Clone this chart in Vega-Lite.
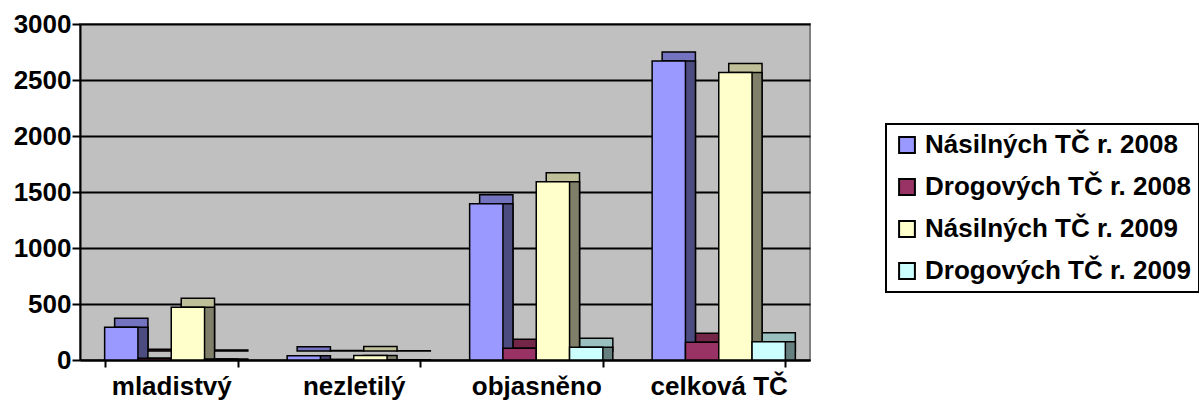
{
  "$schema": "https://vega.github.io/schema/vega-lite/v6.json",
  "autosize": {"type": "none"},
  "padding": {"left": 80, "top": 24, "right": 389, "bottom": 43},
  "width": 730,
  "height": 336,
  "background": "white",
  "config": {
    "font": "Liberation Sans",
    "view": {"fill": "#C0C0C0", "stroke": "#808080", "strokeWidth": 2},
    "axis": {"labelFont": "Liberation Sans", "labelFontWeight": "bold", "labelColor": "black", "domainColor": "black", "domainWidth": 2, "tickColor": "black", "tickWidth": 2, "title": null},
    "legend": {"strokeWidth": 2}
  },
  "data": {
    "values": [
      {"kat": "mladistvý", "serie": "A", "v": 293},
      {"kat": "mladistvý", "serie": "B", "v": 15},
      {"kat": "mladistvý", "serie": "C", "v": 470},
      {"kat": "mladistvý", "serie": "D", "v": 10},
      {"kat": "nezletilý", "serie": "A", "v": 38},
      {"kat": "nezletilý", "serie": "B", "v": 4},
      {"kat": "nezletilý", "serie": "C", "v": 40},
      {"kat": "nezletilý", "serie": "D", "v": 3},
      {"kat": "objasněno", "serie": "A", "v": 1395},
      {"kat": "objasněno", "serie": "B", "v": 104},
      {"kat": "objasněno", "serie": "C", "v": 1592},
      {"kat": "objasněno", "serie": "D", "v": 113},
      {"kat": "celková TČ", "serie": "A", "v": 2670},
      {"kat": "celková TČ", "serie": "B", "v": 158},
      {"kat": "celková TČ", "serie": "C", "v": 2568},
      {"kat": "celková TČ", "serie": "D", "v": 163}
    ]
  },
  "encoding": {
    "x": {
      "field": "kat", "type": "nominal", "sort": ["mladistvý", "nezletilý", "objasněno", "celková TČ"],
      "scale": {"paddingInner": 0.27, "paddingOuter": 0.135},
      "axis": {"labelAngle": 0, "tickBand": "extent", "tickSize": 7, "labelPadding": 6, "labelFontSize": 26, "grid": false}
    },
    "y": {
      "field": "v", "type": "quantitative",
      "scale": {"domain": [0, 3000], "nice": false},
      "axis": {"values": [0, 500, 1000, 1500, 2000, 2500, 3000], "format": "d", "labelFontSize": 26, "tickSize": 8, "labelPadding": 1, "grid": true, "gridColor": "black", "gridWidth": 2, "gridOpacity": 1}
    }
  },
  "layer": [
    {
      "mark": {"type": "bar", "yOffset": -9, "stroke": "black", "strokeWidth": 1.5},
      "encoding": {
        "xOffset": {"field": "serie", "type": "nominal", "sort": ["A", "B", "C", "D"], "scale": {"paddingInner": 0, "paddingOuter": 0, "range": [10, 143.2]}},
        "fill": {"field": "serie", "type": "nominal", "legend": null,
          "scale": {"domain": ["A", "B", "C", "D"], "range": ["#7373BF", "#732648", "#BFBF99", "#99BFBF"]}}
      }
    },
    {
      "mark": {"type": "bar", "stroke": "black", "strokeWidth": 1.5},
      "encoding": {
        "xOffset": {"field": "serie", "type": "nominal", "sort": ["A", "B", "C", "D"], "scale": {"paddingInner": 0, "paddingOuter": 0, "range": [10, 143.2]}},
        "fill": {"field": "serie", "type": "nominal", "legend": null,
          "scale": {"domain": ["A", "B", "C", "D"], "range": ["#4C4C80", "#4C1933", "#80806A", "#668080"]}}
      }
    },
    {
      "mark": {"type": "bar", "stroke": "black", "strokeWidth": 1.5},
      "encoding": {
        "xOffset": {"field": "serie", "type": "nominal", "sort": ["A", "B", "C", "D"], "scale": {"paddingInner": 0, "paddingOuter": 0}},
        "fill": {"field": "serie", "type": "nominal",
          "scale": {"domain": ["A", "B", "C", "D"], "range": ["#9999FF", "#993366", "#FFFFCC", "#CCFFFF"]},
          "legend": {
            "title": null, "orient": "none", "legendX": 806, "legendY": 100,
            "strokeColor": "black", "fillColor": "white",
            "padding": 8, "rowPadding": 16,
            "symbolType": "square", "symbolSize": 250, "symbolStrokeColor": "black", "symbolStrokeWidth": 2,
            "labelFont": "Liberation Sans", "labelFontWeight": "bold", "labelFontSize": 26, "labelColor": "black", "labelLimit": 400, "labelOffset": 5,
            "labelExpr": "datum.value === 'A' ? 'Násilných TČ r. 2008' : datum.value === 'B' ? 'Drogových TČ r. 2008' : datum.value === 'C' ? 'Násilných TČ r. 2009' : 'Drogových TČ r. 2009'"
          }
        }
      }
    }
  ],
  "resolve": {"scale": {"fill": "independent", "xOffset": "independent"}, "legend": {"fill": "independent"}}
}
